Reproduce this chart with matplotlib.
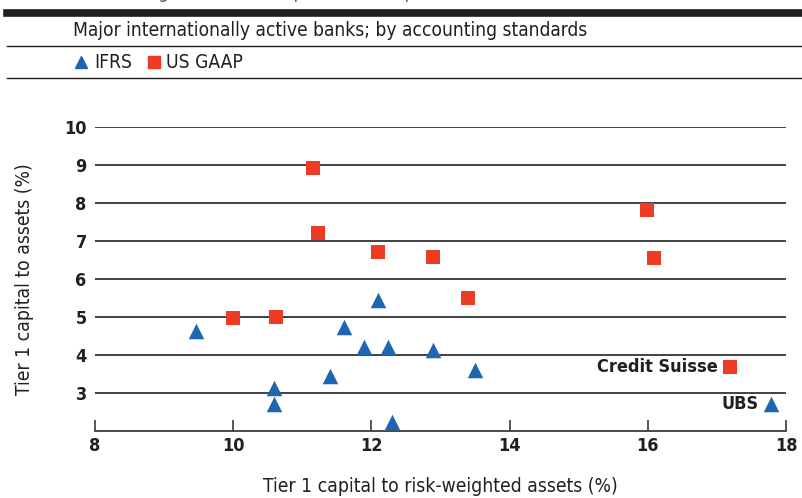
import matplotlib
matplotlib.use("Agg")
import matplotlib.pyplot as plt
from matplotlib.lines import Line2D

plt.rcParams['font.family'] = ['DejaVu Sans']
plt.rcParams['font.stretch'] = 'condensed'

ifrs_x = [9.46, 10.59, 10.59, 11.40, 11.60, 11.89, 12.10, 12.24, 12.30, 12.89, 13.50, 17.78]
ifrs_y = [4.62, 3.12, 2.72, 3.44, 4.75, 4.20, 5.44, 4.22, 2.25, 4.13, 3.60, 2.70]
gaap_x = [10.00, 10.62, 11.15, 11.23, 12.10, 12.89, 13.40, 15.99, 16.09, 17.19]
gaap_y = [4.97, 5.00, 8.92, 7.22, 6.72, 6.58, 5.50, 7.82, 6.55, 3.68]
x_ticks = [8, 10, 12, 14, 16, 18]
y_ticks = [3, 4, 5, 6, 7, 8, 9, 10]
annotations = [("Credit Suisse", 17.19, 3.68), ("UBS", 17.78, 2.70)]

BLUE = "#1f66b0"
RED = "#ee3b24"
INK = "#231f20"
W, H = 803, 498

fig = plt.figure(figsize=(W / 100, H / 100), dpi=100)

def fx(px):
    return px / W

def fy(py):
    return 1 - py / H

# header decorations
fig.add_artist(Line2D([fx(7), 1], [fy(13.5), fy(13.5)], color=INK, lw=5.5))
fig.add_artist(Line2D([fx(7), 1], [fy(46), fy(46)], color=INK, lw=1.0))
fig.add_artist(Line2D([fx(7), 1], [fy(78), fy(78)], color=INK, lw=1.0))
fig.text(fx(73), fy(-7), "Accounting-standard comparison of capital ratios", fontsize=13.8,
         color="#666666", va="center", ha="left")
fig.text(fx(73), fy(31), "Major internationally active banks; by accounting standards",
         fontsize=13.8, color=INK, va="center", ha="left")
# legend
fig.add_artist(Line2D([fx(81)], [fy(62)], marker="^", color=BLUE, markersize=9, lw=0))
fig.text(fx(94), fy(62), "IFRS", fontsize=13.8, color=INK, va="center", ha="left")
fig.add_artist(Line2D([fx(154)], [fy(62)], marker="s", color=RED, markersize=8.5, lw=0))
fig.text(fx(166), fy(62), "US GAAP", fontsize=13.8, color=INK, va="center", ha="left")

ax = fig.add_axes([fx(95), fy(431), fx(786) - fx(95), fy(127) - fy(431)])
ax.set_xlim(8, 18)
ax.set_ylim(2, 10)
for y in y_ticks:
    ax.axhline(y, color="#333333", lw=1.3, zorder=1)
ax.scatter(ifrs_x, ifrs_y, marker="^", s=125, color=BLUE, zorder=3, linewidths=0)
ax.scatter(gaap_x, gaap_y, marker="s", s=105, color=RED, zorder=3, linewidths=0)

for name, x, y in annotations:
    ax.annotate(name, (x, y), xytext=(-9, 0), textcoords="offset points",
                ha="right", va="center", fontsize=13, fontweight="bold", color=INK)

for s in ["left", "right", "top"]:
    ax.spines[s].set_visible(False)
ax.spines["bottom"].set_color("#3a3a3a")
ax.spines["bottom"].set_linewidth(1.3)
ax.set_xticks(x_ticks)
ax.set_yticks(y_ticks)
ax.tick_params(axis="x", direction="in", length=8, width=1.2, color="#3a3a3a", pad=4,
               labelsize=13)
ax.tick_params(axis="y", length=0, pad=6, labelsize=13)
for lab in ax.get_xticklabels() + ax.get_yticklabels():
    lab.set_fontweight("bold")
    lab.set_color(INK)
ax.set_xlabel("Tier 1 capital to risk-weighted assets (%)", fontsize=13.9, color=INK,
              labelpad=16)
ax.set_ylabel("Tier 1 capital to assets (%)", fontsize=13.9, color=INK, labelpad=22)

fig.savefig("out.png", dpi=100)
